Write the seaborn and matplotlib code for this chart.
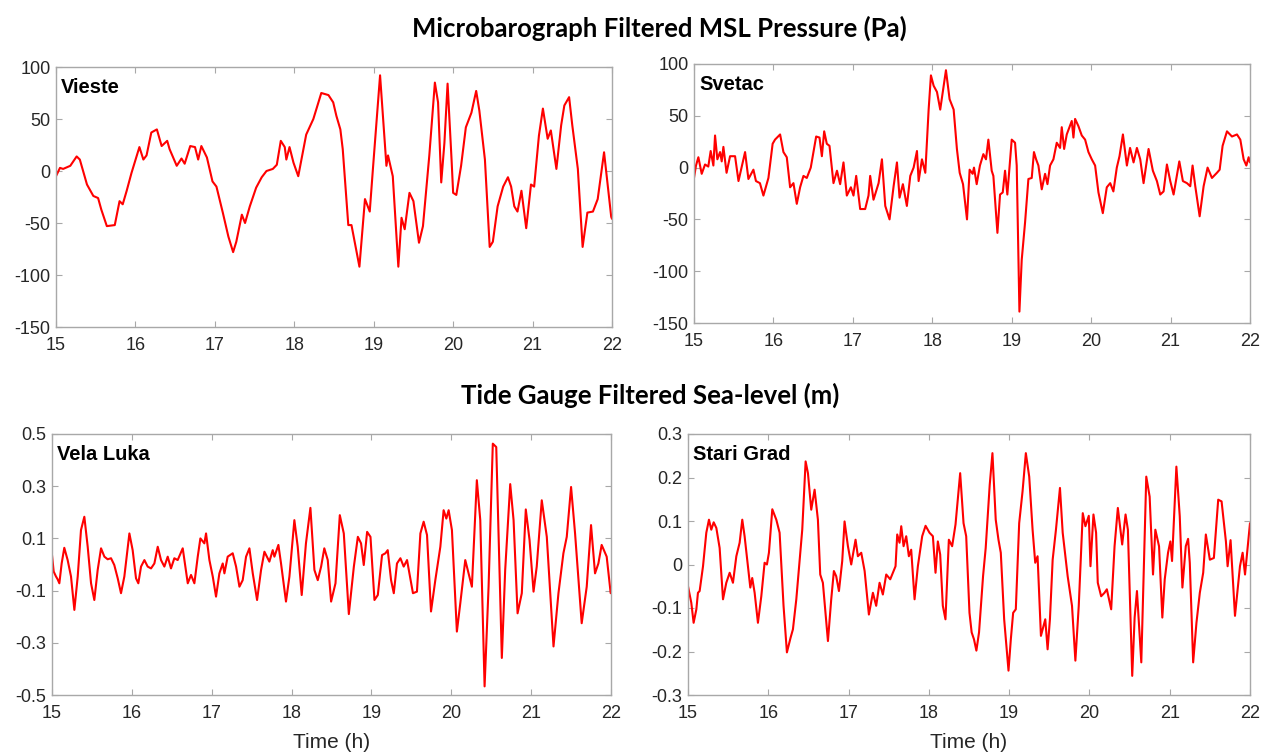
import numpy as np
import pandas as pd
import matplotlib
matplotlib.use("Agg")
import matplotlib.pyplot as plt
import seaborn as sns

# ---------------- data ----------------
vieste_t = [15.00, 15.05, 15.09, 15.18, 15.26, 15.30, 15.39, 15.47, 15.53, 15.57, 15.64, 15.74, 15.80, 15.84,
            15.89, 15.95, 16.05, 16.10, 16.14, 16.20, 16.27, 16.33, 16.40, 16.43, 16.52, 16.58, 16.62, 16.69,
            16.75, 16.79, 16.83, 16.90, 16.97, 17.02, 17.10, 17.17, 17.23, 17.27, 17.34, 17.38, 17.44, 17.52,
            17.59, 17.65, 17.73, 17.78, 17.83, 17.88, 17.90, 17.94, 17.99, 18.05, 18.15, 18.24, 18.34, 18.43,
            18.49, 18.53, 18.58, 18.61, 18.68, 18.72, 18.78, 18.82, 18.89, 18.95, 18.99, 19.08, 19.16, 19.18,
            19.24, 19.31, 19.35, 19.39, 19.45, 19.50, 19.57, 19.62, 19.70, 19.77, 19.81, 19.85, 19.89, 19.93,
            19.98, 20.00, 20.04, 20.10, 20.16, 20.23, 20.29, 20.33, 20.40, 20.46, 20.50, 20.56, 20.63, 20.69,
            20.73, 20.77, 20.81, 20.86, 20.92, 20.98, 21.02, 21.08, 21.13, 21.19, 21.23, 21.30, 21.36, 21.40,
            21.46, 21.50, 21.57, 21.63, 21.69, 21.76, 21.82, 21.90, 21.99, 22.00]
vieste_v = [-5, 3, 2, 5, 14, 11, -13, -24, -26, -37, -53, -52, -29, -32,
            -19, -2, 23, 11, 15, 37, 40, 24, 29, 21, 5, 12, 7, 24,
            23, 11, 24, 13, -10, -15, -40, -63, -78, -68, -42, -50, -34, -16,
            -6, 0, 2, 6, 29, 23, 11, 23, 8, -5, 35, 50, 75, 73,
            66, 53, 40, 21, -52, -52, -76, -92, -27, -39, 2, 92, 5, 15,
            -5, -92, -45, -56, -21, -29, -69, -53, 15, 85, 66, -11, 27, 84,
            11, -21, -23, 5, 42, 56, 77, 58, 11, -73, -68, -34, -15, -6,
            -15, -34, -39, -19, -55, -13, -15, 34, 60, 31, 39, 2, 44, 63,
            71, 44, 2, -73, -40, -39, -27, 18, -44, -46]

svetac_t = [15.00, 15.025, 15.055, 15.097, 15.139, 15.18, 15.21, 15.244, 15.265, 15.294, 15.328, 15.349, 15.37,
            15.41, 15.454, 15.517, 15.56, 15.643, 15.685, 15.748, 15.78, 15.83, 15.874, 15.908, 15.937, 15.99,
            16.02, 16.084, 16.126, 16.168, 16.21, 16.252, 16.294, 16.336, 16.378, 16.42, 16.47, 16.538, 16.58,
            16.61, 16.639, 16.672, 16.706, 16.756, 16.80, 16.84, 16.882, 16.924, 16.975, 17.008, 17.042, 17.092,
            17.155, 17.197, 17.218, 17.26, 17.324, 17.366, 17.408, 17.462, 17.513, 17.555, 17.588, 17.63, 17.68,
            17.723, 17.765, 17.807, 17.828, 17.87, 17.912, 17.954, 17.983, 18.017, 18.059, 18.10, 18.143, 18.172,
            18.218, 18.269, 18.31, 18.345, 18.387, 18.437, 18.47, 18.508, 18.525, 18.559, 18.60, 18.643, 18.676,
            18.706, 18.748, 18.769, 18.82, 18.853, 18.887, 18.916, 18.945, 19.00, 19.042, 19.063, 19.097, 19.126,
            19.168, 19.21, 19.252, 19.28, 19.307, 19.336, 19.378, 19.42, 19.45, 19.483, 19.525, 19.567, 19.609,
            19.63, 19.66, 19.693, 19.756, 19.777, 19.798, 19.84, 19.882, 19.924, 19.966, 20.008, 20.05, 20.092,
            20.147, 20.197, 20.24, 20.28, 20.323, 20.357, 20.40, 20.45, 20.49, 20.534, 20.576, 20.618, 20.66,
            20.723, 20.777, 20.828, 20.87, 20.912, 20.954, 20.996, 21.038, 21.11, 21.155, 21.206, 21.248, 21.277,
            21.311, 21.366, 21.416, 21.466, 21.521, 21.584, 21.618, 21.655, 21.71, 21.773, 21.836, 21.878, 21.92,
            21.954, 21.983, 22.00]
svetac_v = [-10, 2, 10, -6, 3, 1, 16, 2, 31, 8, 15, 6, 20,
            -5, 11, 11, -13, 15, -11, -2, -13, -15, -27, -18, -10, 23,
            27, 32, 15, 10, -19, -15, -35, -19, -8, -10, 0, 30, 29,
            11, 35, 23, 21, -15, -3, -16, 5, -27, -19, -27, -8, -40,
            -40, -27, -8, -31, -15, 8, -37, -50, -18, 5, -29, -16, -37,
            -8, 0, 16, -13, 8, -5, 56, 89, 79, 73, 56, 79, 94,
            66, 56, 18, -5, -16, -50, -2, -6, 0, -16, 2, 13, 8,
            27, -3, -8, -63, -26, -24, -3, -26, 27, 24, 2, -139, -89,
            -53, -11, -10, 15, 8, 2, -21, -6, -16, 2, 8, 24, 19,
            39, 18, 32, 45, 29, 47, 40, 31, 27, 15, 8, 2, -24,
            -44, -19, -15, -23, 0, 11, 32, 2, 19, 5, 19, 8, -15,
            18, -3, -13, -26, -23, 3, -13, -26, 6, -13, -15, -18, 2,
            -18, -47, -18, 0, -10, -5, -2, 21, 35, 30, 32, 27, 8,
            2, 10, 5]

velaluka_t = [15.00, 15.021, 15.05, 15.071, 15.092, 15.121, 15.154, 15.196, 15.238, 15.28, 15.322, 15.363, 15.405,
              15.447, 15.489, 15.53, 15.572, 15.614, 15.656, 15.697, 15.739, 15.78, 15.823, 15.864, 15.906, 15.969,
              16.01, 16.052, 16.081, 16.115, 16.157, 16.198, 16.24, 16.282, 16.324, 16.365, 16.407, 16.449, 16.49,
              16.532, 16.574, 16.637, 16.658, 16.70, 16.741, 16.783, 16.825, 16.858, 16.908, 16.929, 16.971, 17.013,
              17.054, 17.096, 17.138, 17.159, 17.20, 17.263, 17.305, 17.347, 17.388, 17.43, 17.472, 17.514, 17.568,
              17.618, 17.66, 17.722, 17.764, 17.785, 17.835, 17.868, 17.93, 17.973, 18.035, 18.077, 18.127, 18.18,
              18.236, 18.286, 18.328, 18.37, 18.41, 18.453, 18.495, 18.55, 18.604, 18.654, 18.717, 18.78, 18.83,
              18.87, 18.904, 18.946, 18.988, 19.038, 19.08, 19.133, 19.175, 19.204, 19.246, 19.28, 19.32, 19.363,
              19.404, 19.446, 19.52, 19.57, 19.613, 19.654, 19.696, 19.746, 19.80, 19.863, 19.904, 19.938, 19.967,
              20.008, 20.07, 20.113, 20.175, 20.217, 20.258, 20.32, 20.363, 20.417, 20.467, 20.52, 20.563, 20.633,
              20.675, 20.738, 20.78, 20.83, 20.883, 20.933, 20.98, 21.03, 21.07, 21.133, 21.196, 21.28, 21.342,
              21.404, 21.446, 21.50, 21.55, 21.633, 21.696, 21.75, 21.80, 21.842, 21.883, 21.946, 21.996]
velaluka_v = [0.036, -0.027, -0.046, -0.057, -0.072, 0.004, 0.064, 0.017, -0.046, -0.174, -0.046, 0.132, 0.183,
              0.068, -0.072, -0.136, -0.021, 0.062, 0.030, 0.020, 0.024, -0.002, -0.053, -0.110, -0.046, 0.119,
              0.055, -0.053, -0.072, -0.008, 0.017, -0.008, -0.015, 0.004, 0.068, 0.017, -0.008, 0.030, -0.015,
              0.024, 0.017, 0.062, 0.017, -0.072, -0.040, -0.072, 0.030, 0.100, 0.081, 0.119, 0.017, -0.046,
              -0.123, -0.034, 0.004, -0.034, 0.030, 0.043, -0.008, -0.085, -0.060, 0.030, 0.062, -0.034, -0.136,
              -0.021, 0.049, 0.011, 0.055, 0.030, 0.075, 0.004, -0.142, -0.046, 0.170, 0.068, -0.117, 0.081,
              0.217, -0.021, -0.060, -0.008, 0.062, 0.017, -0.142, -0.072, 0.189, 0.119, -0.190, -0.008, 0.106,
              0.081, -0.002, 0.125, 0.106, -0.136, -0.117, 0.036, 0.043, 0.055, -0.060, -0.110, 0.004, 0.024,
              -0.008, 0.017, -0.110, -0.104, 0.119, 0.164, 0.113, -0.180, -0.060, 0.068, 0.208, 0.176, 0.208,
              0.132, -0.257, -0.148, 0.017, -0.034, -0.085, 0.323, 0.170, -0.467, -0.085, 0.463, 0.450, -0.358,
              -0.021, 0.308, 0.170, -0.187, -0.110, 0.211, 0.094, -0.104, -0.008, 0.246, 0.106, -0.314, -0.110,
              0.043, 0.106, 0.297, 0.119, -0.225, -0.085, 0.151, -0.034, 0.004, 0.075, 0.030, -0.110]

starigrad_t = [15.00, 15.041, 15.07, 15.104, 15.124, 15.145, 15.187, 15.228, 15.261, 15.29, 15.32, 15.353, 15.394,
               15.436, 15.477, 15.519, 15.56, 15.602, 15.643, 15.676, 15.705, 15.747, 15.776, 15.80, 15.83, 15.871,
               15.913, 15.954, 15.983, 16.008, 16.05, 16.10, 16.141, 16.19, 16.232, 16.278, 16.307, 16.349, 16.423,
               16.465, 16.494, 16.535, 16.577, 16.618, 16.647, 16.68, 16.743, 16.784, 16.817, 16.846, 16.88, 16.921,
               16.95, 16.992, 17.033, 17.087, 17.116, 17.158, 17.20, 17.253, 17.303, 17.344, 17.386, 17.427, 17.469,
               17.519, 17.585, 17.606, 17.635, 17.656, 17.685, 17.718, 17.751, 17.78, 17.822, 17.863, 17.917, 17.959,
               18.008, 18.05, 18.083, 18.112, 18.141, 18.174, 18.207, 18.249, 18.29, 18.332, 18.39, 18.432, 18.465,
               18.506, 18.533, 18.562, 18.592, 18.625, 18.675, 18.708, 18.758, 18.792, 18.833, 18.867, 18.896, 18.938,
               18.992, 19.021, 19.05, 19.083, 19.125, 19.167, 19.208, 19.25, 19.292, 19.325, 19.354, 19.396, 19.45,
               19.479, 19.508, 19.542, 19.583, 19.633, 19.667, 19.729, 19.783, 19.825, 19.867, 19.917, 19.95, 19.992,
               20.013, 20.05, 20.083, 20.104, 20.146, 20.188, 20.217, 20.271, 20.313, 20.354, 20.408, 20.45, 20.479,
               20.533, 20.563, 20.592, 20.646, 20.708, 20.75, 20.792, 20.821, 20.867, 20.908, 20.938, 20.979, 21.008,
               21.029, 21.083, 21.125, 21.158, 21.20, 21.229, 21.25, 21.292, 21.333, 21.375, 21.417, 21.45, 21.50,
               21.55, 21.604, 21.646, 21.70, 21.721, 21.758, 21.813, 21.875, 21.908, 21.938, 22.00]
starigrad_v = [-0.050, -0.088, -0.134, -0.103, -0.065, -0.061, -0.004, 0.073, 0.103, 0.080, 0.097, 0.084, 0.038,
               -0.080, -0.042, -0.019, -0.042, 0.019, 0.050, 0.103, 0.065, -0.004, -0.053, -0.031, -0.065, -0.134,
               -0.073, 0.004, 0.000, 0.027, 0.127, 0.103, 0.073, -0.095, -0.202, -0.168, -0.149, -0.080, 0.080,
               0.237, 0.210, 0.126, 0.172, 0.103, -0.023, -0.042, -0.176, -0.080, -0.015, -0.027, -0.061, 0.008,
               0.099, 0.042, 0.000, 0.057, 0.019, 0.027, -0.015, -0.115, -0.065, -0.095, -0.042, -0.069, -0.023,
               -0.034, -0.004, 0.069, 0.050, 0.088, 0.042, 0.065, 0.019, 0.034, -0.080, -0.004, 0.065, 0.089,
               0.073, 0.065, -0.019, 0.053, 0.023, -0.095, -0.126, 0.057, 0.042, 0.092, 0.210, 0.095, 0.065,
               -0.111, -0.156, -0.172, -0.198, -0.156, -0.027, 0.038, 0.183, 0.256, 0.103, 0.057, 0.027, -0.126,
               -0.244, -0.172, -0.111, -0.103, 0.095, 0.168, 0.256, 0.202, 0.080, 0.004, 0.019, -0.164, -0.126,
               -0.195, -0.126, 0.011, 0.080, 0.176, 0.073, -0.027, -0.095, -0.221, -0.095, 0.118, 0.088, 0.112,
               -0.004, 0.115, 0.073, -0.042, -0.073, -0.065, -0.057, -0.103, 0.042, 0.130, 0.046, 0.115, 0.080,
               -0.256, -0.122, -0.061, -0.225, 0.202, 0.156, -0.023, 0.080, 0.042, -0.122, -0.034, 0.027, 0.053,
               0.008, 0.225, 0.111, -0.053, 0.042, 0.059, 0.004, -0.225, -0.134, -0.065, -0.019, 0.069, 0.011,
               0.015, 0.149, 0.145, 0.053, -0.004, 0.056, -0.118, -0.004, 0.027, -0.023, 0.095]

station_names = ["Vieste", "Svetac", "Vela Luka", "Stari Grad"]
title_top = "Microbarograph Filtered MSL Pressure (Pa)"
title_bottom = "Tide Gauge Filtered Sea-level (m)"
x_label = "Time (h)"
x_ticks = [15, 16, 17, 18, 19, 20, 21, 22]
pressure_ticks = [-150, -100, -50, 0, 50, 100]
vela_ticks = [-0.5, -0.3, -0.1, 0.1, 0.3, 0.5]
vela_ticklabels = ["-0.5", "-0.3", "-0.1", "0.1", "0.3", "0.5"]
stari_ticks = [-0.3, -0.2, -0.1, 0.0, 0.1, 0.2, 0.3]
stari_ticklabels = ["-0.3", "-0.2", "-0.1", "0", "0.1", "0.2", "0.3"]

# ---------------- figure ----------------
sns.set_theme(style="white")
plt.rcParams['font.family'] = ['Liberation Sans', 'DejaVu Sans']

W, H = 1263, 755
fig = plt.figure(figsize=(W / 100, H / 100), dpi=100)
fig.patch.set_facecolor("white")


def add_ax(l, r, t, b):
    return fig.add_axes([l / W, 1 - b / H, (r - l) / W, (b - t) / H])


axes_px = [(56, 612, 67, 327), (694, 1250, 64, 323), (52, 611, 434, 695), (688, 1250, 434, 695)]
series = [(vieste_t, vieste_v), (svetac_t, svetac_v), (velaluka_t, velaluka_v), (starigrad_t, starigrad_v)]
ylims = [(-150, 100), (-150, 100), (-0.5, 0.5), (-0.3, 0.3)]

spine_col = "#a8a8a8"
text_col = "#262626"

for i, ((l, r, t, b), (tt, vv)) in enumerate(zip(axes_px, series)):
    ax = add_ax(l, r, t, b)
    df = pd.DataFrame({"t": tt, "v": vv})
    sns.lineplot(data=df, x="t", y="v", ax=ax, color="#ff0000", linewidth=1.5,
                 estimator=None, sort=False)
    ax.set_xlim(15, 22)
    ax.set_ylim(*ylims[i])
    ax.set_xticks(x_ticks)
    ax.set_xticklabels([str(x) for x in x_ticks])
    if i < 2:
        ax.set_yticks(pressure_ticks)
        ax.set_yticklabels([str(y) for y in pressure_ticks])
    elif i == 2:
        ax.set_yticks(vela_ticks)
        ax.set_yticklabels(vela_ticklabels)
    else:
        ax.set_yticks(stari_ticks)
        ax.set_yticklabels(stari_ticklabels)
    ax.set_xlabel(x_label if i >= 2 else "", fontsize=15, color=text_col, labelpad=8)
    ax.set_ylabel("")
    for s in ax.spines.values():
        s.set_visible(True)
        s.set_color(spine_col)
        s.set_linewidth(1.0)
    ax.tick_params(direction="in", length=4, width=0.8, color=spine_col,
                   top=True, right=True, bottom=True, left=True,
                   labelsize=13, labelcolor=text_col)
    ax.tick_params(axis="x", pad=7)
    ax.tick_params(axis="y", pad=4)
    ax.set_facecolor("white")
    h = b - t
    ax.text(5 / (r - l), 1 - 26 / h, station_names[i], transform=ax.transAxes,
            fontsize=14.5, fontweight="bold", color="black", va="baseline", ha="left")

fig.text(659 / W, 1 - 28 / H, title_top, ha="center", va="center",
         fontsize=18.5, fontweight="bold", family=["Lato", "DejaVu Sans"], color="black")
fig.text(650 / W, 1 - 395 / H, title_bottom, ha="center", va="center",
         fontsize=18.5, fontweight="bold", family=["Lato", "DejaVu Sans"], color="black")

fig.savefig("out.png", dpi=100, facecolor="white")
